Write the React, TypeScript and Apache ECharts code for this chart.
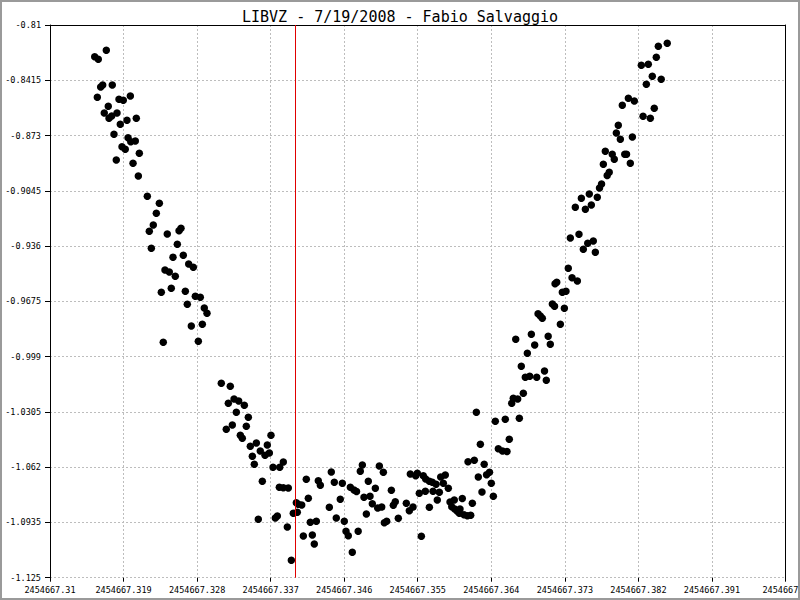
import React, { useEffect, useRef } from "react";
import * as echarts from "echarts";

const TITLE = "LIBVZ - 7/19/2008 - Fabio Salvaggio";
const JD_BASE_LABEL = "2454667";
// x values: fraction of day after JD 2454667
const X_MIN = 0.31;
const X_MAX = 0.4;
const X_STEP = 0.009;
const Y_MIN = -1.125;
const Y_MAX = -0.81;
const Y_STEP = 0.0315;
const X_TICKS = [
  "2454667.31", "2454667.319", "2454667.328", "2454667.337", "2454667.346",
  "2454667.355", "2454667.364", "2454667.373", "2454667.382", "2454667.391", "2454667.4",
];
const Y_TICKS = [
  "-1.125", "-1.0935", "-1.062", "-1.0305", "-0.999", "-0.9675",
  "-0.936", "-0.9045", "-0.873", "-0.8415", "-0.81",
];
const MARKER_JD = 0.3398;

const jd = [
  0.31547, 0.31591, 0.31689, 0.31620, 0.31645, 0.31762, 0.31579, 0.31983, 0.31844, 0.31897,
  0.31713, 0.31664, 0.31820, 0.31755, 0.31722, 0.31942, 0.32056, 0.31860, 0.31783, 0.31955,
  0.31988, 0.32044, 0.31881, 0.31921, 0.32093, 0.31811, 0.32016, 0.32081, 0.32191, 0.32338,
  0.32301, 0.32264, 0.32215, 0.32435, 0.32603, 0.32579, 0.32558, 0.32240, 0.32505, 0.32631,
  0.32697, 0.32754, 0.32407, 0.32460, 0.32533, 0.32362, 0.32484, 0.32656, 0.32778, 0.32839,
  0.32680, 0.32888, 0.32921, 0.32864, 0.32729, 0.32386, 0.32815, 0.33096, 0.33206, 0.33252,
  0.33309, 0.33182, 0.33378, 0.33280, 0.33427, 0.33231, 0.33157, 0.33402, 0.33704, 0.33329,
  0.33353, 0.33525, 0.33451, 0.33659, 0.33573, 0.33684, 0.33631, 0.33476, 0.33500, 0.33855,
  0.33811, 0.33729, 0.33598, 0.33806, 0.33855, 0.33916, 0.33549, 0.33757, 0.33782, 0.33904,
  0.33953, 0.33977, 0.34026, 0.34014, 0.34038, 0.34080, 0.34100, 0.34136, 0.34161, 0.34185,
  0.34210, 0.34234, 0.34259, 0.34283, 0.34308, 0.34418, 0.34442, 0.34479, 0.34503, 0.34552,
  0.34577, 0.34601, 0.34622, 0.34650, 0.34675, 0.34720, 0.34751, 0.34699, 0.34771, 0.34797,
  0.34822, 0.34842, 0.34871, 0.34895, 0.34916, 0.34944, 0.34981, 0.35010, 0.35030, 0.35059,
  0.35079, 0.35091, 0.35120, 0.35177, 0.35201, 0.35225, 0.35262, 0.35360, 0.35397, 0.35409,
  0.35442, 0.35475, 0.35495, 0.35519, 0.35544, 0.35568, 0.35593, 0.35597, 0.35642, 0.35642,
  0.35678, 0.35687, 0.35724, 0.35739, 0.35764, 0.35781, 0.35813, 0.35837, 0.35874, 0.35895,
  0.35916, 0.35947, 0.35952, 0.35984, 0.36009, 0.36017, 0.36045, 0.36066, 0.36107, 0.36115,
  0.36148, 0.36168, 0.36192, 0.36217, 0.36241, 0.36266, 0.36286, 0.36313, 0.36342, 0.36378,
  0.36400, 0.36425, 0.36449, 0.36486, 0.36537, 0.36571, 0.36592, 0.36620, 0.36650, 0.36669,
  0.36699, 0.36723, 0.36743, 0.36767, 0.36792, 0.36816, 0.36841, 0.36870, 0.36890, 0.36931,
  0.36956, 0.36972, 0.37000, 0.37024, 0.37051, 0.37073, 0.37096, 0.37122, 0.37147, 0.37174,
  0.37180, 0.37201, 0.37245, 0.37269, 0.37294, 0.37314, 0.37342, 0.37367, 0.37388, 0.37428,
  0.37453, 0.37473, 0.37502, 0.37526, 0.37551, 0.37580, 0.37599, 0.37624, 0.37648, 0.37673,
  0.37697, 0.37724, 0.37749, 0.37771, 0.37795, 0.37818, 0.37843, 0.37880, 0.37905, 0.37930,
  0.37954, 0.37979, 0.38003, 0.38033, 0.38055, 0.38077, 0.38101, 0.38126, 0.38150, 0.38236,
  0.38257, 0.38297, 0.38321, 0.38346, 0.38370, 0.38394, 0.38419, 0.38444, 0.38479, 0.38553,
];

const mag = [
  -0.82807, -0.82955, -0.82442, -0.84534, -0.84420, -0.84420, -0.85121, -0.85047, -0.85235, -0.85292,
  -0.85634, -0.86015, -0.86015, -0.86186, -0.86317, -0.86431, -0.86317, -0.86659, -0.87229, -0.87423,
  -0.87651, -0.87611, -0.87936, -0.88084, -0.88312, -0.88694, -0.88882, -0.89606, -0.90763, -0.91162,
  -0.91732, -0.92399, -0.92758, -0.92912, -0.92587, -0.92724, -0.93499, -0.93727, -0.94240, -0.94126,
  -0.94621, -0.94809, -0.94963, -0.95077, -0.95322, -0.96234, -0.96006, -0.96177, -0.96462, -0.96519,
  -0.96918, -0.97129, -0.97431, -0.98058, -0.98155, -0.99084, -0.99027, -1.01421, -1.01592, -1.02315,
  -1.02429, -1.02561, -1.02675, -1.03073, -1.03358, -1.03797, -1.04042, -1.03871, -1.04384, -1.04384,
  -1.04555, -1.04823, -1.05011, -1.04937, -1.05279, -1.05393, -1.05524, -1.05581, -1.06037, -1.05906,
  -1.06208, -1.06208, -1.07006, -1.07348, -1.07371, -1.07388, -1.09172, -1.09098, -1.08984, -1.09611,
  -1.11508, -1.08830, -1.08773, -1.08226, -1.08317, -1.08357, -1.10123, -1.06892, -1.07975, -1.09343,
  -1.10066, -1.10579, -1.09286, -1.06972, -1.07234, -1.08488, -1.06476, -1.07063, -1.09098, -1.08032,
  -1.07120, -1.09286, -1.09856, -1.10106, -1.07348, -1.07502, -1.07587, -1.11052, -1.09850, -1.06436,
  -1.06077, -1.07918, -1.08870, -1.07006, -1.07861, -1.08283, -1.07405, -1.08528, -1.06134, -1.08471,
  -1.06493, -1.09365, -1.09286, -1.07519, -1.08374, -1.08169, -1.09115, -1.08260, -1.08682, -1.06590,
  -1.08471, -1.06687, -1.06550, -1.07690, -1.10141, -1.06687, -1.07576, -1.06875, -1.07006, -1.08488,
  -1.07063, -1.07576, -1.07177, -1.08072, -1.07633, -1.06761, -1.07120, -1.06647, -1.07405, -1.08186,
  -1.08454, -1.08072, -1.08585, -1.08716, -1.08830, -1.08585, -1.07986, -1.08910, -1.08967, -1.05889,
  -1.08944, -1.08254, -1.05809, -1.03073, -1.06761, -1.04897, -1.07616, -1.06037, -1.06630, -1.06493,
  -1.07120, -1.07861, -1.03586, -1.05148, -1.05279, -1.03472, -1.05308, -1.04612, -1.02561, -1.02276,
  -0.98913, -1.02315, -1.03415, -1.00452, -1.01991, -1.01079, -0.99711, -1.01022, -0.98628, -0.99238,
  -1.01079, -0.97454, -0.97585, -0.97716, -1.00720, -1.01250, -0.98736, -0.99192, -0.96901, -0.97032,
  -0.95744, -0.95664, -0.98058, -0.96234, -0.97140, -0.96177, -0.94866, -0.93140, -0.95402, -0.91390,
  -0.95590, -0.92929, -0.90877, -0.93784, -0.91504, -0.93442, -0.90632, -0.91259, -0.93311, -0.93955,
  -0.90820, -0.90290, -0.90062, -0.88939, -0.88192, -0.89577, -0.89395, -0.88363, -0.88654, -0.87155,
  -0.86716, -0.87514, -0.85577, -0.88369, -0.88369, -0.85172, -0.88882, -0.87383, -0.85332, -0.83291,
  -0.86203, -0.84374, -0.83234, -0.86317, -0.83918, -0.85742, -0.82841, -0.82208, -0.84089, -0.82043,
];

export default function App() {
  const ref = useRef<HTMLDivElement>(null);

  useEffect(() => {
    if (!ref.current) return;
    const chart = echarts.init(ref.current, null, { renderer: "svg" });
    const font = "'DejaVu Sans Mono', 'Liberation Mono', monospace";
    const xSpan = X_MAX - X_MIN;
    const ySpan = Y_MAX - Y_MIN;
    const data = jd.map((x, i) => [x - X_MIN, mag[i] - Y_MIN]);
    const gridLine = { show: true, lineStyle: { color: "#bdbdbd", width: 1, type: [2, 2] } };

    chart.setOption({
      animation: false,
      backgroundColor: "#ffffff",
      title: {
        text: TITLE,
        left: "center",
        top: 4,
        textStyle: { fontFamily: font, fontSize: 15, fontWeight: "normal", color: "#000" },
      },
      graphic: [
        {
          type: "rect",
          shape: { x: 1, y: 1, width: 798, height: 598 },
          style: { fill: "none", stroke: "#9a9a9a", lineWidth: 2 },
          silent: true,
        },
      ],
      grid: {
        left: 50,
        top: 25,
        right: 14.5,
        bottom: 22.3,
        containLabel: false,
        outerBoundsMode: "none",
      },
      xAxis: [
        {
          type: "value",
          min: 0,
          max: xSpan,
          interval: X_STEP,
          position: "bottom",
          axisLine: { show: false, onZero: false },
          axisTick: { show: true, length: 4, lineStyle: { color: "#000" } },
          axisLabel: {
            show: true,
            fontFamily: font,
            fontSize: 8.5,
            color: "#000",
            margin: 8,
            showMinLabel: true,
            showMaxLabel: true,
            hideOverlap: false,
            formatter: (v: number) => X_TICKS[Math.round(v / X_STEP)] ?? JD_BASE_LABEL,
          },
          splitLine: gridLine,
        },
        {
          type: "value",
          min: 0,
          max: xSpan,
          position: "top",
          axisLine: { show: true, onZero: false, lineStyle: { color: "#000", width: 1 } },
          axisTick: { show: false },
          axisLabel: { show: false },
          splitLine: { show: false },
        },
      ],
      yAxis: [
        {
          type: "value",
          min: 0,
          max: ySpan,
          interval: Y_STEP,
          position: "left",
          axisLine: { show: true, onZero: false, lineStyle: { color: "#000", width: 1 } },
          axisTick: { show: true, length: 5, lineStyle: { color: "#000" } },
          axisLabel: {
            show: true,
            fontFamily: font,
            fontSize: 8.5,
            color: "#000",
            margin: 9,
            showMinLabel: true,
            showMaxLabel: true,
            formatter: (v: number) => Y_TICKS[Math.round(v / Y_STEP)] ?? "",
          },
          splitLine: gridLine,
        },
        {
          type: "value",
          min: 0,
          max: ySpan,
          position: "right",
          axisLine: { show: true, onZero: false, lineStyle: { color: "#000", width: 1 } },
          axisTick: { show: false },
          axisLabel: { show: false },
          splitLine: { show: false },
        },
      ],
      series: [
        {
          type: "scatter",
          xAxisIndex: 0,
          yAxisIndex: 0,
          symbol: "circle",
          symbolSize: 7.5,
          itemStyle: { color: "#000", opacity: 1 },
          data,
          markLine: {
            silent: true,
            symbol: "none",
            label: { show: false },
            lineStyle: { color: "#e00000", width: 1, type: "solid" },
            data: [{ xAxis: MARKER_JD - X_MIN }],
          },
        },
      ],
    });

    return () => chart.dispose();
  }, []);

  return (
    <div
      ref={ref}
      style={{ position: "fixed", left: 0, top: 0, width: 800, height: 600, background: "#fff" }}
    />
  );
}
